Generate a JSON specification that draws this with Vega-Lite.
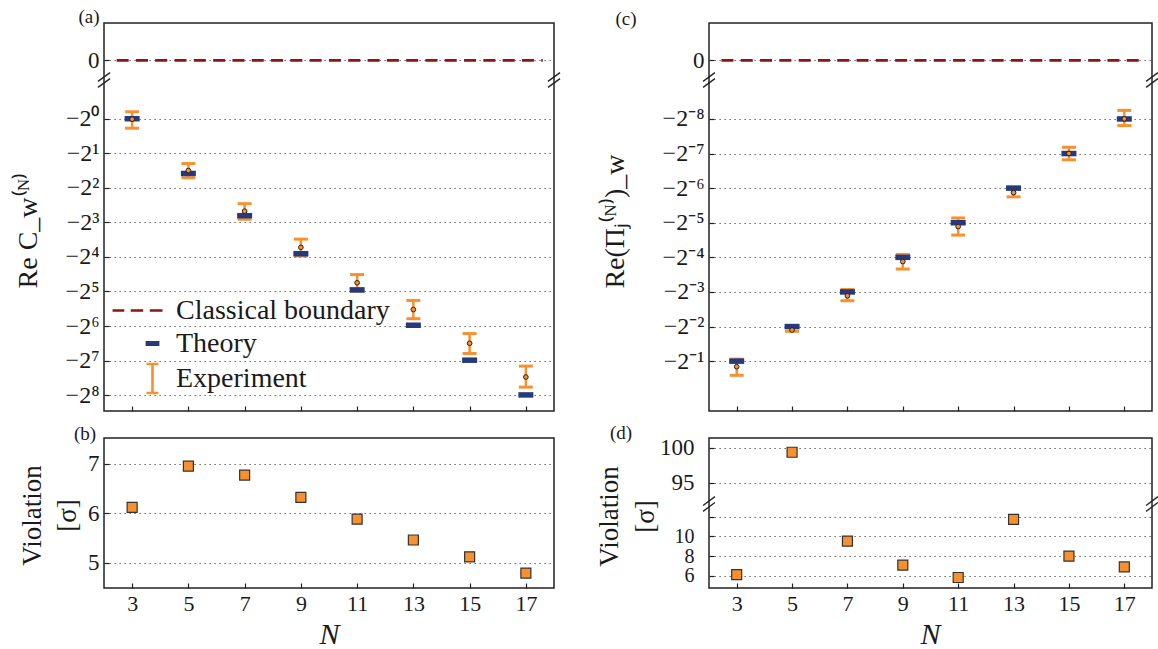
{
  "$schema": "https://vega.github.io/schema/vega-lite/v6.json",
  "background": "white",
  "padding": {"left": 13, "top": 7, "right": 0, "bottom": 0},
  "bounds": "flush",
  "columns": 2,
  "spacing": {"row": 27, "column": 155},
  "resolve": {"scale": {"color": "independent", "shape": "independent"}},
  "datasets": {
    "cw": [
      {"N": 3, "theory": -1, "exp": -1.01, "exp_lo": -1.21, "exp_hi": -0.87},
      {"N": 5, "theory": -3, "exp": -2.83, "exp_lo": -3.27, "exp_hi": -2.46},
      {"N": 7, "theory": -7, "exp": -6.39, "exp_lo": -7.52, "exp_hi": -5.5},
      {"N": 9, "theory": -15, "exp": -13.2, "exp_lo": -15.7, "exp_hi": -11.2},
      {"N": 11, "theory": -31, "exp": -26.9, "exp_lo": -31.8, "exp_hi": -22.8},
      {"N": 13, "theory": -63, "exp": -46, "exp_lo": -55.3, "exp_hi": -38.3},
      {"N": 15, "theory": -127, "exp": -90.5, "exp_lo": -111, "exp_hi": -74.5},
      {"N": 17, "theory": -255, "exp": -178, "exp_lo": -218, "exp_hi": -143}
    ],
    "pi": [
      {"N": 3, "theory": -0.5, "exp": -0.559, "exp_lo": -0.664, "exp_hi": -0.48},
      {"N": 5, "theory": -0.25, "exp": -0.268, "exp_lo": -0.275, "exp_hi": -0.248},
      {"N": 7, "theory": -0.125, "exp": -0.135, "exp_lo": -0.149, "exp_hi": -0.119},
      {"N": 9, "theory": -0.0625, "exp": -0.068, "exp_lo": -0.079, "exp_hi": -0.059},
      {"N": 11, "theory": -0.03125, "exp": -0.0337, "exp_lo": -0.04, "exp_hi": -0.0284},
      {"N": 13, "theory": -0.015625, "exp": -0.0171, "exp_lo": -0.0186, "exp_hi": -0.0153},
      {"N": 15, "theory": -0.0078125, "exp": -0.0078, "exp_lo": -0.00885, "exp_hi": -0.00689},
      {"N": 17, "theory": -0.00390625, "exp": -0.0039, "exp_lo": -0.00446, "exp_hi": -0.00329}
    ],
    "vb": [
      {"N": 3, "violation": 6.12}, {"N": 5, "violation": 6.95}, {"N": 7, "violation": 6.77},
      {"N": 9, "violation": 6.32}, {"N": 11, "violation": 5.88}, {"N": 13, "violation": 5.46},
      {"N": 15, "violation": 5.12}, {"N": 17, "violation": 4.79}
    ],
    "vd": [
      {"N": 3, "violation": 6.14}, {"N": 5, "violation": 99.37}, {"N": 7, "violation": 9.52},
      {"N": 9, "violation": 7.09}, {"N": 11, "violation": 5.84}, {"N": 13, "violation": 11.73},
      {"N": 15, "violation": 8.0}, {"N": 17, "violation": 6.91}
    ],
    "zero": [{"N_start": 2.45, "N_end": 17.6, "value": 0}],
    "breaks_top": [
      {"bx": 1.785, "bx2": 2.215, "by": -1.071, "by2": -0.624},
      {"bx": 1.785, "bx2": 2.215, "by": -1.376, "by2": -0.929},
      {"bx": 17.785, "bx2": 18.215, "by": -1.071, "by2": -0.624},
      {"bx": 17.785, "bx2": 18.215, "by": -1.376, "by2": -0.929}
    ],
    "breaks_d": [
      {"bx": 1.785, "bx2": 2.215, "by": 91.8, "by2": 93.05},
      {"bx": 1.785, "bx2": 2.215, "by": 90.95, "by2": 92.2},
      {"bx": 17.785, "bx2": 18.215, "by": 91.8, "by2": 93.05},
      {"bx": 17.785, "bx2": 18.215, "by": 90.95, "by2": 92.2}
    ],
    "one": [{}],
    "legend": [{"series": "Classical boundary"}, {"series": "Theory"}, {"series": "Experiment"}]
  },
  "concat": [
    {
      "width": 450, "height": 388,
      "resolve": {"scale": {"y": "independent"}, "axis": {"y": "independent"}},
      "layer": [
        {
          "layer": [
            {"data": {"name": "zero"},
             "mark": {"type": "rule", "color": "#8c1515", "strokeWidth": 2.8, "strokeDash": [12, 7.3]},
             "encoding": {
               "x": {"field": "N_start", "type": "quantitative", "scale": {"domain": [2, 18], "nice": false, "zero": false}, "axis": {"values": [3, 5, 7, 9, 11, 13, 15, 17], "labels": false, "title": null, "grid": false, "domain": false}},
               "x2": {"field": "N_end"},
               "y": {"field": "value", "type": "quantitative", "scale": {"domain": [-1, 1.9], "range": [57, 0], "nice": false, "zero": false}, "axis": {"orient": "left", "values": [0], "title": null, "grid": true, "domain": false, "labelFontSize": 23}}
             }},
            {"data": {"name": "breaks_top"},
             "mark": {"type": "rule", "color": "#222", "strokeWidth": 1.3},
             "encoding": {
               "x": {"field": "bx", "type": "quantitative", "scale": {"domain": [2, 18], "nice": false, "zero": false}, "axis": {"values": [3, 5, 7, 9, 11, 13, 15, 17], "labels": false, "title": null, "grid": false, "domain": false}},
               "x2": {"field": "bx2"},
               "y": {"field": "by", "type": "quantitative", "scale": {"domain": [-1, 1.9], "range": [57, 0], "nice": false, "zero": false}, "axis": {"orient": "left", "values": [0], "title": null, "grid": true, "domain": false, "labelFontSize": 23}},
               "y2": {"field": "by2"}
             }},
            {"data": {"name": "one"},
             "mark": {"type": "text", "text": "(a)", "fontSize": 19, "dx": -15, "dy": -6, "align": "center", "baseline": "middle"},
             "encoding": {
               "x": {"datum": 2, "type": "quantitative", "scale": {"domain": [2, 18], "nice": false, "zero": false}, "axis": {"values": [3, 5, 7, 9, 11, 13, 15, 17], "labels": false, "title": null, "grid": false, "domain": false}},
               "y": {"datum": 1.9, "type": "quantitative", "scale": {"domain": [-1, 1.9], "range": [57, 0], "nice": false, "zero": false}, "axis": {"orient": "left", "values": [0], "title": null, "grid": true, "domain": false, "labelFontSize": 23}}
             }}
          ]
        },
        {
          "layer": [
            {"data": {"name": "cw"},
             "mark": {"type": "rule", "color": "#f7902f", "strokeWidth": 2.5},
             "encoding": {
               "x": {"field": "N", "type": "quantitative", "scale": {"domain": [2, 18], "nice": false, "zero": false}, "axis": {"values": [3, 5, 7, 9, 11, 13, 15, 17], "labels": false, "title": null, "grid": false, "domain": false}},
               "y": {"field": "exp_lo", "type": "quantitative", "scale": {"type": "log", "domain": [-352, -0.46], "range": [388, 57], "nice": false}, "axis": {"orient": "left", "values": [-1, -2, -4, -8, -16, -32, -64, -128, -256], "labelExpr": "'−2' + ['⁰','¹','²','³','⁴','⁵','⁶','⁷','⁸'][round(log(-datum.value)/LN2)]", "labelFontSize": 24, "grid": true, "domain": false, "title": "Re C_w⁽ᴺ⁾", "titleFontSize": 28, "titleAngle": -90, "titleX": -76, "titleY": 207, "titleAlign": "center", "titleBaseline": "middle"}},
               "y2": {"field": "exp_hi"}
             }},
            {"data": {"name": "cw"},
             "mark": {"type": "tick", "orient": "horizontal", "color": "#f7902f", "size": 14, "thickness": 3, "opacity": 1},
             "encoding": {
               "x": {"field": "N", "type": "quantitative", "scale": {"domain": [2, 18], "nice": false, "zero": false}, "axis": {"values": [3, 5, 7, 9, 11, 13, 15, 17], "labels": false, "title": null, "grid": false, "domain": false}},
               "y": {"field": "exp_lo", "type": "quantitative", "scale": {"type": "log", "domain": [-352, -0.46], "range": [388, 57], "nice": false}, "axis": {"orient": "left", "values": [-1, -2, -4, -8, -16, -32, -64, -128, -256], "labelExpr": "'−2' + ['⁰','¹','²','³','⁴','⁵','⁶','⁷','⁸'][round(log(-datum.value)/LN2)]", "labelFontSize": 24, "grid": true, "domain": false, "title": "Re C_w⁽ᴺ⁾", "titleFontSize": 28, "titleAngle": -90, "titleX": -76, "titleY": 207, "titleAlign": "center", "titleBaseline": "middle"}}
             }},
            {"data": {"name": "cw"},
             "mark": {"type": "tick", "orient": "horizontal", "color": "#f7902f", "size": 14, "thickness": 3, "opacity": 1},
             "encoding": {
               "x": {"field": "N", "type": "quantitative", "scale": {"domain": [2, 18], "nice": false, "zero": false}, "axis": {"values": [3, 5, 7, 9, 11, 13, 15, 17], "labels": false, "title": null, "grid": false, "domain": false}},
               "y": {"field": "exp_hi", "type": "quantitative", "scale": {"type": "log", "domain": [-352, -0.46], "range": [388, 57], "nice": false}, "axis": {"orient": "left", "values": [-1, -2, -4, -8, -16, -32, -64, -128, -256], "labelExpr": "'−2' + ['⁰','¹','²','³','⁴','⁵','⁶','⁷','⁸'][round(log(-datum.value)/LN2)]", "labelFontSize": 24, "grid": true, "domain": false, "title": "Re C_w⁽ᴺ⁾", "titleFontSize": 28, "titleAngle": -90, "titleX": -76, "titleY": 207, "titleAlign": "center", "titleBaseline": "middle"}}
             }},
            {"data": {"name": "cw"},
             "mark": {"type": "tick", "orient": "horizontal", "color": "#26397d", "size": 15, "thickness": 5.5, "opacity": 1},
             "encoding": {
               "x": {"field": "N", "type": "quantitative", "scale": {"domain": [2, 18], "nice": false, "zero": false}, "axis": {"values": [3, 5, 7, 9, 11, 13, 15, 17], "labels": false, "title": null, "grid": false, "domain": false}},
               "y": {"field": "theory", "type": "quantitative", "scale": {"type": "log", "domain": [-352, -0.46], "range": [388, 57], "nice": false}, "axis": {"orient": "left", "values": [-1, -2, -4, -8, -16, -32, -64, -128, -256], "labelExpr": "'−2' + ['⁰','¹','²','³','⁴','⁵','⁶','⁷','⁸'][round(log(-datum.value)/LN2)]", "labelFontSize": 24, "grid": true, "domain": false, "title": "Re C_w⁽ᴺ⁾", "titleFontSize": 28, "titleAngle": -90, "titleX": -76, "titleY": 207, "titleAlign": "center", "titleBaseline": "middle"}}
             }},
            {"data": {"name": "cw"},
             "mark": {"type": "point", "shape": "circle", "filled": true, "fill": "#f7902f", "stroke": "#222", "strokeWidth": 1, "size": 22, "opacity": 1},
             "encoding": {
               "x": {"field": "N", "type": "quantitative", "scale": {"domain": [2, 18], "nice": false, "zero": false}, "axis": {"values": [3, 5, 7, 9, 11, 13, 15, 17], "labels": false, "title": null, "grid": false, "domain": false}},
               "y": {"field": "exp", "type": "quantitative", "scale": {"type": "log", "domain": [-352, -0.46], "range": [388, 57], "nice": false}, "axis": {"orient": "left", "values": [-1, -2, -4, -8, -16, -32, -64, -128, -256], "labelExpr": "'−2' + ['⁰','¹','²','³','⁴','⁵','⁶','⁷','⁸'][round(log(-datum.value)/LN2)]", "labelFontSize": 24, "grid": true, "domain": false, "title": "Re C_w⁽ᴺ⁾", "titleFontSize": 28, "titleAngle": -90, "titleX": -76, "titleY": 207, "titleAlign": "center", "titleBaseline": "middle"}}
             }},
            {"data": {"name": "legend"},
             "transform": [{"filter": "false"}],
             "mark": {"type": "point", "filled": false, "strokeWidth": 2.6, "opacity": 1},
             "encoding": {
               "color": {"field": "series", "type": "nominal",
                 "scale": {"domain": ["Classical boundary", "Theory", "Experiment"], "range": ["#8c1515", "#26397d", "#f7902f"]},
                 "legend": {"title": null, "orient": "none", "legendX": 30, "legendY": 269, "symbolSize": 1156, "symbolStrokeWidth": 2.6, "symbolOpacity": 1, "labelFontSize": 28, "labelFont": "Liberation Serif", "labelColor": "#1a1a1a", "labelOffset": 5, "rowPadding": 0, "padding": 0, "labelLimit": 400}},
               "shape": {"field": "series", "type": "nominal",
                 "scale": {"domain": ["Classical boundary", "Theory", "Experiment"], "range": ["M-2.35,0H-1.66M-1.28,0H-0.55M-0.16,0H0.59", "M-0.33,-0.07H0.33V0.07H-0.33Z", "M-0.35,-0.85H0.35M0,-0.85V0.85M-0.35,0.85H0.35"]},
                 "legend": {"title": null, "orient": "none", "legendX": 30, "legendY": 269, "symbolSize": 1156, "symbolStrokeWidth": 2.6, "symbolOpacity": 1, "labelFontSize": 28, "labelFont": "Liberation Serif", "labelColor": "#1a1a1a", "labelOffset": 5, "rowPadding": 0, "padding": 0, "labelLimit": 400}}
             }}
          ]
        }
      ]
    },
    {
      "width": 443, "height": 388,
      "resolve": {"scale": {"y": "independent"}, "axis": {"y": "independent"}},
      "layer": [
        {
          "layer": [
            {"data": {"name": "zero"},
             "mark": {"type": "rule", "color": "#8c1515", "strokeWidth": 2.8, "strokeDash": [12, 7.3]},
             "encoding": {
               "x": {"field": "N_start", "type": "quantitative", "scale": {"domain": [2, 18], "nice": false, "zero": false}, "axis": {"values": [3, 5, 7, 9, 11, 13, 15, 17], "labels": false, "title": null, "grid": false, "domain": false}},
               "x2": {"field": "N_end"},
               "y": {"field": "value", "type": "quantitative", "scale": {"domain": [-1, 1.9], "range": [57, 0], "nice": false, "zero": false}, "axis": {"orient": "left", "values": [0], "title": null, "grid": true, "domain": false, "labelFontSize": 23}}
             }},
            {"data": {"name": "breaks_top"},
             "mark": {"type": "rule", "color": "#222", "strokeWidth": 1.3},
             "encoding": {
               "x": {"field": "bx", "type": "quantitative", "scale": {"domain": [2, 18], "nice": false, "zero": false}, "axis": {"values": [3, 5, 7, 9, 11, 13, 15, 17], "labels": false, "title": null, "grid": false, "domain": false}},
               "x2": {"field": "bx2"},
               "y": {"field": "by", "type": "quantitative", "scale": {"domain": [-1, 1.9], "range": [57, 0], "nice": false, "zero": false}, "axis": {"orient": "left", "values": [0], "title": null, "grid": true, "domain": false, "labelFontSize": 23}},
               "y2": {"field": "by2"}
             }},
            {"data": {"name": "one"},
             "mark": {"type": "text", "text": "(c)", "fontSize": 19, "dx": -83, "dy": -4, "align": "center", "baseline": "middle"},
             "encoding": {
               "x": {"datum": 2, "type": "quantitative", "scale": {"domain": [2, 18], "nice": false, "zero": false}, "axis": {"values": [3, 5, 7, 9, 11, 13, 15, 17], "labels": false, "title": null, "grid": false, "domain": false}},
               "y": {"datum": 1.9, "type": "quantitative", "scale": {"domain": [-1, 1.9], "range": [57, 0], "nice": false, "zero": false}, "axis": {"orient": "left", "values": [0], "title": null, "grid": true, "domain": false, "labelFontSize": 23}}
             }}
          ]
        },
        {
          "layer": [
            {"data": {"name": "pi"},
             "mark": {"type": "rule", "color": "#f7902f", "strokeWidth": 2.5},
             "encoding": {
               "x": {"field": "N", "type": "quantitative", "scale": {"domain": [2, 18], "nice": false, "zero": false}, "axis": {"values": [3, 5, 7, 9, 11, 13, 15, 17], "labels": false, "title": null, "grid": false, "domain": false}},
               "y": {"field": "exp_lo", "type": "quantitative", "scale": {"type": "log", "domain": [-1.357, -0.00179], "range": [388, 57], "nice": false}, "axis": {"orient": "left", "values": [-0.5, -0.25, -0.125, -0.0625, -0.03125, -0.015625, -0.0078125, -0.00390625], "labelExpr": "'−2⁻' + ['⁰','¹','²','³','⁴','⁵','⁶','⁷','⁸'][round(-log(-datum.value)/LN2)]", "labelFontSize": 24, "grid": true, "domain": false, "title": "Re(Πⱼ⁽ᴺ⁾)_w", "titleFontSize": 28, "titleAngle": -90, "titleX": -94, "titleY": 198, "titleAlign": "center", "titleBaseline": "middle"}},
               "y2": {"field": "exp_hi"}
             }},
            {"data": {"name": "pi"},
             "mark": {"type": "tick", "orient": "horizontal", "color": "#f7902f", "size": 14, "thickness": 3, "opacity": 1},
             "encoding": {
               "x": {"field": "N", "type": "quantitative", "scale": {"domain": [2, 18], "nice": false, "zero": false}, "axis": {"values": [3, 5, 7, 9, 11, 13, 15, 17], "labels": false, "title": null, "grid": false, "domain": false}},
               "y": {"field": "exp_lo", "type": "quantitative", "scale": {"type": "log", "domain": [-1.357, -0.00179], "range": [388, 57], "nice": false}, "axis": {"orient": "left", "values": [-0.5, -0.25, -0.125, -0.0625, -0.03125, -0.015625, -0.0078125, -0.00390625], "labelExpr": "'−2⁻' + ['⁰','¹','²','³','⁴','⁵','⁶','⁷','⁸'][round(-log(-datum.value)/LN2)]", "labelFontSize": 24, "grid": true, "domain": false, "title": "Re(Πⱼ⁽ᴺ⁾)_w", "titleFontSize": 28, "titleAngle": -90, "titleX": -94, "titleY": 198, "titleAlign": "center", "titleBaseline": "middle"}}
             }},
            {"data": {"name": "pi"},
             "mark": {"type": "tick", "orient": "horizontal", "color": "#f7902f", "size": 14, "thickness": 3, "opacity": 1},
             "encoding": {
               "x": {"field": "N", "type": "quantitative", "scale": {"domain": [2, 18], "nice": false, "zero": false}, "axis": {"values": [3, 5, 7, 9, 11, 13, 15, 17], "labels": false, "title": null, "grid": false, "domain": false}},
               "y": {"field": "exp_hi", "type": "quantitative", "scale": {"type": "log", "domain": [-1.357, -0.00179], "range": [388, 57], "nice": false}, "axis": {"orient": "left", "values": [-0.5, -0.25, -0.125, -0.0625, -0.03125, -0.015625, -0.0078125, -0.00390625], "labelExpr": "'−2⁻' + ['⁰','¹','²','³','⁴','⁵','⁶','⁷','⁸'][round(-log(-datum.value)/LN2)]", "labelFontSize": 24, "grid": true, "domain": false, "title": "Re(Πⱼ⁽ᴺ⁾)_w", "titleFontSize": 28, "titleAngle": -90, "titleX": -94, "titleY": 198, "titleAlign": "center", "titleBaseline": "middle"}}
             }},
            {"data": {"name": "pi"},
             "mark": {"type": "tick", "orient": "horizontal", "color": "#26397d", "size": 15, "thickness": 5.5, "opacity": 1},
             "encoding": {
               "x": {"field": "N", "type": "quantitative", "scale": {"domain": [2, 18], "nice": false, "zero": false}, "axis": {"values": [3, 5, 7, 9, 11, 13, 15, 17], "labels": false, "title": null, "grid": false, "domain": false}},
               "y": {"field": "theory", "type": "quantitative", "scale": {"type": "log", "domain": [-1.357, -0.00179], "range": [388, 57], "nice": false}, "axis": {"orient": "left", "values": [-0.5, -0.25, -0.125, -0.0625, -0.03125, -0.015625, -0.0078125, -0.00390625], "labelExpr": "'−2⁻' + ['⁰','¹','²','³','⁴','⁵','⁶','⁷','⁸'][round(-log(-datum.value)/LN2)]", "labelFontSize": 24, "grid": true, "domain": false, "title": "Re(Πⱼ⁽ᴺ⁾)_w", "titleFontSize": 28, "titleAngle": -90, "titleX": -94, "titleY": 198, "titleAlign": "center", "titleBaseline": "middle"}}
             }},
            {"data": {"name": "pi"},
             "mark": {"type": "point", "shape": "circle", "filled": true, "fill": "#f7902f", "stroke": "#222", "strokeWidth": 1, "size": 22, "opacity": 1},
             "encoding": {
               "x": {"field": "N", "type": "quantitative", "scale": {"domain": [2, 18], "nice": false, "zero": false}, "axis": {"values": [3, 5, 7, 9, 11, 13, 15, 17], "labels": false, "title": null, "grid": false, "domain": false}},
               "y": {"field": "exp", "type": "quantitative", "scale": {"type": "log", "domain": [-1.357, -0.00179], "range": [388, 57], "nice": false}, "axis": {"orient": "left", "values": [-0.5, -0.25, -0.125, -0.0625, -0.03125, -0.015625, -0.0078125, -0.00390625], "labelExpr": "'−2⁻' + ['⁰','¹','²','³','⁴','⁵','⁶','⁷','⁸'][round(-log(-datum.value)/LN2)]", "labelFontSize": 24, "grid": true, "domain": false, "title": "Re(Πⱼ⁽ᴺ⁾)_w", "titleFontSize": 28, "titleAngle": -90, "titleX": -94, "titleY": 198, "titleAlign": "center", "titleBaseline": "middle"}}
             }}
          ]
        }
      ]
    },
    {
      "width": 450, "height": 150,
      "layer": [
        {"data": {"name": "vb"},
         "mark": {"type": "square", "filled": true, "fill": "#f7902f", "stroke": "#333", "strokeWidth": 1.2, "size": 100, "opacity": 1},
         "encoding": {
           "x": {"field": "N", "type": "quantitative", "scale": {"domain": [2, 18], "nice": false, "zero": false}, "axis": {"values": [3, 5, 7, 9, 11, 13, 15, 17], "grid": false, "domain": false, "title": "N", "titleFontStyle": "italic", "titleFontSize": 30, "titleX": 225, "titleY": 46, "titleBaseline": "middle", "titleAlign": "center"}},
           "y": {"field": "violation", "type": "quantitative", "scale": {"domain": [4.49, 7.52], "nice": false, "zero": false}, "axis": {"values": [5, 6, 7], "grid": true, "domain": false, "labelFontSize": 23, "title": ["Violation", "[σ]"], "titleFontSize": 27, "titleLineHeight": 35, "titleAngle": -90, "titleX": -71.5, "titleY": 77, "titleAlign": "center", "titleBaseline": "middle"}}
         }},
        {"data": {"name": "one"},
         "mark": {"type": "text", "text": "(b)", "fontSize": 19, "dx": -19, "dy": -4, "align": "center", "baseline": "middle"},
         "encoding": {
           "x": {"datum": 2, "type": "quantitative", "scale": {"domain": [2, 18], "nice": false, "zero": false}, "axis": {"values": [3, 5, 7, 9, 11, 13, 15, 17], "grid": false, "domain": false, "title": "N", "titleFontStyle": "italic", "titleFontSize": 30, "titleX": 225, "titleY": 46, "titleBaseline": "middle", "titleAlign": "center"}},
           "y": {"datum": 7.52, "type": "quantitative", "scale": {"domain": [4.49, 7.52], "nice": false, "zero": false}, "axis": {"values": [5, 6, 7], "grid": true, "domain": false, "labelFontSize": 23, "title": ["Violation", "[σ]"], "titleFontSize": 27, "titleLineHeight": 35, "titleAngle": -90, "titleX": -71.5, "titleY": 77, "titleAlign": "center", "titleBaseline": "middle"}}
         }}
      ]
    },
    {
      "width": 443, "height": 150,
      "resolve": {"scale": {"y": "independent"}, "axis": {"y": "independent"}},
      "layer": [
        {
          "layer": [
            {"data": {"name": "vd"},
             "transform": [{"filter": "datum.violation > 50"}],
             "mark": {"type": "square", "filled": true, "fill": "#f7902f", "stroke": "#333", "strokeWidth": 1.2, "size": 100, "opacity": 1},
             "encoding": {
               "x": {"field": "N", "type": "quantitative", "scale": {"domain": [2, 18], "nice": false, "zero": false}, "axis": {"values": [3, 5, 7, 9, 11, 13, 15, 17], "grid": false, "domain": false, "title": "N", "titleFontStyle": "italic", "titleFontSize": 30, "titleX": 221, "titleY": 46, "titleBaseline": "middle", "titleAlign": "center"}},
               "y": {"field": "violation", "type": "quantitative", "scale": {"domain": [92, 101.4], "range": [66, 0], "nice": false, "zero": false}, "axis": {"orient": "left", "values": [95, 100], "grid": true, "domain": false, "labelFontSize": 23, "labelPadding": 20, "title": ["Violation", "[σ]"], "titleFontSize": 27, "titleLineHeight": 36, "titleAngle": -90, "titleX": -99.5, "titleY": 78, "titleAlign": "center", "titleBaseline": "middle"}}
             }},
            {"data": {"name": "breaks_d"},
             "mark": {"type": "rule", "color": "#222", "strokeWidth": 1.3},
             "encoding": {
               "x": {"field": "bx", "type": "quantitative", "scale": {"domain": [2, 18], "nice": false, "zero": false}, "axis": {"values": [3, 5, 7, 9, 11, 13, 15, 17], "grid": false, "domain": false, "title": "N", "titleFontStyle": "italic", "titleFontSize": 30, "titleX": 221, "titleY": 46, "titleBaseline": "middle", "titleAlign": "center"}},
               "x2": {"field": "bx2"},
               "y": {"field": "by", "type": "quantitative", "scale": {"domain": [92, 101.4], "range": [66, 0], "nice": false, "zero": false}, "axis": {"orient": "left", "values": [95, 100], "grid": true, "domain": false, "labelFontSize": 23, "labelPadding": 20, "title": ["Violation", "[σ]"], "titleFontSize": 27, "titleLineHeight": 36, "titleAngle": -90, "titleX": -99.5, "titleY": 78, "titleAlign": "center", "titleBaseline": "middle"}},
               "y2": {"field": "by2"}
             }},
            {"data": {"name": "one"},
             "mark": {"type": "text", "text": "(d)", "fontSize": 19, "dx": -88, "dy": -5, "align": "center", "baseline": "middle"},
             "encoding": {
               "x": {"datum": 2, "type": "quantitative", "scale": {"domain": [2, 18], "nice": false, "zero": false}, "axis": {"values": [3, 5, 7, 9, 11, 13, 15, 17], "grid": false, "domain": false, "title": "N", "titleFontStyle": "italic", "titleFontSize": 30, "titleX": 221, "titleY": 46, "titleBaseline": "middle", "titleAlign": "center"}},
               "y": {"datum": 101.4, "type": "quantitative", "scale": {"domain": [92, 101.4], "range": [66, 0], "nice": false, "zero": false}, "axis": {"orient": "left", "values": [95, 100], "grid": true, "domain": false, "labelFontSize": 23, "labelPadding": 20, "title": ["Violation", "[σ]"], "titleFontSize": 27, "titleLineHeight": 36, "titleAngle": -90, "titleX": -99.5, "titleY": 78, "titleAlign": "center", "titleBaseline": "middle"}}
             }}
          ]
        },
        {
          "layer": [
            {"data": {"name": "vd"},
             "transform": [{"filter": "datum.violation < 50"}],
             "mark": {"type": "square", "filled": true, "fill": "#f7902f", "stroke": "#333", "strokeWidth": 1.2, "size": 100, "opacity": 1},
             "encoding": {
               "x": {"field": "N", "type": "quantitative", "scale": {"domain": [2, 18], "nice": false, "zero": false}, "axis": {"values": [3, 5, 7, 9, 11, 13, 15, 17], "grid": false, "domain": false, "title": "N", "titleFontStyle": "italic", "titleFontSize": 30, "titleX": 221, "titleY": 46, "titleBaseline": "middle", "titleAlign": "center"}},
               "y": {"field": "violation", "type": "quantitative", "scale": {"domain": [4.78, 13.28], "range": [150, 66], "nice": false, "zero": false}, "axis": {"orient": "left", "values": [6, 8, 10, 12], "grid": true, "domain": false, "labelFontSize": 20, "labelPadding": 20, "title": null, "labelExpr": "datum.value == 12 ? '' : datum.label"}}
             }}
          ]
        }
      ]
    }
  ],
  "config": {
    "font": "Liberation Serif",
    "view": {"stroke": "#222", "strokeWidth": 1.5},
    "axis": {
      "labelFont": "Liberation Serif", "titleFont": "Liberation Serif",
      "labelFontSize": 22, "labelColor": "#1a1a1a", "titleColor": "#1a1a1a", "titleFontWeight": "normal",
      "domainColor": "#222", "domainWidth": 1.5, "tickColor": "#222", "tickWidth": 1.2, "tickSize": -5,
      "labelPadding": 10, "gridColor": "#444", "gridDash": [1.2, 3.8], "gridWidth": 1.1,
      "labelBound": false, "labelOverlap": false, "labelFlush": false
    },
    "text": {"font": "Liberation Serif", "color": "#1a1a1a"}
  }
}
